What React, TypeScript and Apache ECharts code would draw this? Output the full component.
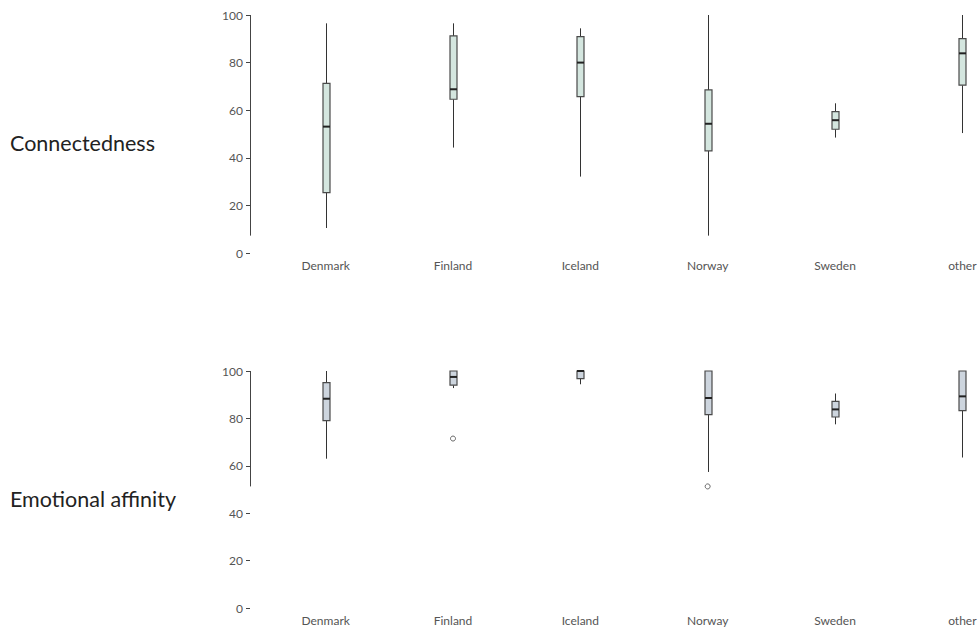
import React, { useEffect, useRef } from "react";
import * as echarts from "echarts";

const categories = ["Denmark", "Finland", "Iceland", "Norway", "Sweden", "other"];

// Connectedness box statistics
const conMin = [10.5, 44.3, 32.1, 7.3, 48.5, 50.4];
const conQ1 = [25.4, 64.6, 65.7, 42.9, 52.0, 70.5];
const conMedian = [53.1, 68.8, 80.0, 54.3, 55.8, 83.9];
const conQ3 = [71.3, 91.2, 90.9, 68.5, 59.4, 90.1];
const conMax = [96.5, 96.5, 94.4, 100, 62.9, 100];
const conOutliers: [string, number][] = [];

// Emotional affinity box statistics
const emoMin = [63.0, 92.8, 94.4, 57.4, 77.5, 63.5];
const emoQ1 = [79.1, 94.0, 96.8, 81.6, 80.6, 83.3];
const emoMedian = [88.3, 97.5, 100, 88.6, 83.8, 89.3];
const emoQ3 = [95.1, 100, 100, 100, 87.2, 100];
const emoMax = [100, 100, 100, 100, 90.5, 100];
const emoOutliers: [string, number][] = [
  ["Finland", 71.5],
  ["Norway", 51.3],
];

const rowTitles = ["Connectedness", "Emotional affinity"];
const yTicks = [0, 20, 40, 60, 80, 100];

const FONT = "Lato";

function boxData(mn: number[], q1: number[], md: number[], q3: number[], mx: number[]) {
  return categories.map((_, i) => [i, mn[i], q1[i], md[i], q3[i], mx[i]]);
}

function makeBoxRender(fill: string) {
  return (params: any, api: any) => {
    const idx = api.value(0);
    const pLow = api.coord([idx, api.value(1)]);
    const pQ1 = api.coord([idx, api.value(2)]);
    const pMed = api.coord([idx, api.value(3)]);
    const pQ3 = api.coord([idx, api.value(4)]);
    const pHigh = api.coord([idx, api.value(5)]);
    const x = Math.round(pMed[0]) + 0.5;
    const hw = 3.5;
    return {
      type: "group",
      children: [
        {
          type: "line",
          shape: { x1: x, y1: pLow[1], x2: x, y2: pQ1[1] },
          style: { stroke: "#333", lineWidth: 1 },
        },
        {
          type: "line",
          shape: { x1: x, y1: pQ3[1], x2: x, y2: pHigh[1] },
          style: { stroke: "#333", lineWidth: 1 },
        },
        {
          type: "rect",
          shape: { x: x - hw, y: pQ3[1], width: hw * 2, height: pQ1[1] - pQ3[1] },
          style: { fill, stroke: "#4a4a4a", lineWidth: 1.2 },
        },
        {
          type: "line",
          shape: { x1: x - hw, y1: pMed[1], x2: x + hw, y2: pMed[1] },
          style: { stroke: "#222", lineWidth: 2 },
        },
      ],
    };
  };
}

function frameRender(params: any, api: any) {
  const lo = api.coord([0, api.value(1)]);
  const hi = api.coord([0, api.value(2)]);
  const x = params.coordSys.x - 11.5;
  return {
    type: "line",
    shape: { x1: x, y1: lo[1], x2: x, y2: hi[1] },
    style: { stroke: "#444", lineWidth: 1 },
  };
}

export default function App() {
  const ref = useRef<HTMLDivElement>(null);

  useEffect(() => {
    if (!ref.current) return;
    const chart = echarts.init(ref.current, undefined, { renderer: "svg" });

    const conLow = Math.min(...conMin, ...conOutliers.map((o) => o[1]));
    const conHigh = Math.max(...conMax, ...conOutliers.map((o) => o[1]));
    const emoLow = Math.min(...emoMin, ...emoOutliers.map((o) => o[1]));
    const emoHigh = Math.max(...emoMax, ...emoOutliers.map((o) => o[1]));

    const grids = [
      { left: 262, top: 15, width: 764, height: 238 },
      { left: 262, top: 371, width: 764, height: 237 },
    ];

    const xAxes = grids.map((_, gi) => ({
      type: "category",
      gridIndex: gi,
      data: categories,
      boundaryGap: true,
      axisLine: { show: false },
      axisTick: { show: false },
      axisLabel: { color: "#555", fontSize: 12, fontFamily: FONT, margin: 6 },
      splitLine: { show: false },
    }));

    const yAxes = grids.map((_, gi) => ({
      type: "value",
      gridIndex: gi,
      min: yTicks[0],
      max: yTicks[yTicks.length - 1],
      interval: 20,
      offset: 12,
      axisLine: { show: false },
      axisTick: { show: true, length: 4, lineStyle: { color: "#444", width: 1 } },
      axisLabel: { color: "#555", fontSize: 12, fontFamily: FONT, margin: 7 },
      splitLine: { show: false },
    }));

    const option: any = {
      animation: false,
      backgroundColor: "#fff",
      grid: grids,
      xAxis: xAxes,
      yAxis: yAxes,
      graphic: [
        {
          type: "text",
          left: 10,
          top: 132,
          style: { text: rowTitles[0], fontSize: 21.5, fontFamily: FONT, fill: "#222" },
        },
        {
          type: "text",
          left: 10,
          top: 488,
          style: { text: rowTitles[1], fontSize: 21.5, fontFamily: FONT, fill: "#222" },
        },
      ],
      series: [
        {
          type: "custom",
          xAxisIndex: 0,
          yAxisIndex: 0,
          clip: false,
          renderItem: frameRender,
          data: [[0, conLow, conHigh]],
          encode: { x: 0, y: [1, 2] },
          silent: true,
        },
        {
          type: "custom",
          xAxisIndex: 1,
          yAxisIndex: 1,
          clip: false,
          renderItem: frameRender,
          data: [[0, emoLow, emoHigh]],
          encode: { x: 0, y: [1, 2] },
          silent: true,
        },
        {
          type: "custom",
          xAxisIndex: 0,
          yAxisIndex: 0,
          renderItem: makeBoxRender("#d4e6df"),
          data: boxData(conMin, conQ1, conMedian, conQ3, conMax),
          encode: { x: 0, y: [1, 2, 3, 4, 5] },
        },
        {
          type: "custom",
          xAxisIndex: 1,
          yAxisIndex: 1,
          renderItem: makeBoxRender("#cdd5de"),
          data: boxData(emoMin, emoQ1, emoMedian, emoQ3, emoMax),
          encode: { x: 0, y: [1, 2, 3, 4, 5] },
        },
        {
          type: "scatter",
          xAxisIndex: 0,
          yAxisIndex: 0,
          symbol: "circle",
          symbolSize: 5,
          itemStyle: { color: "#fff", borderColor: "#444", borderWidth: 1 },
          data: conOutliers,
        },
        {
          type: "scatter",
          xAxisIndex: 1,
          yAxisIndex: 1,
          symbol: "circle",
          symbolSize: 5,
          itemStyle: { color: "#fff", borderColor: "#444", borderWidth: 1 },
          data: emoOutliers,
        },
      ],
    };

    chart.setOption(option);
    return () => chart.dispose();
  }, []);

  return (
    <div
      style={{
        position: "absolute",
        left: 0,
        top: 0,
        width: 979,
        height: 631,
        overflow: "hidden",
      }}
    >
      <div ref={ref} style={{ width: 1040, height: 631 }} />
    </div>
  );
}
